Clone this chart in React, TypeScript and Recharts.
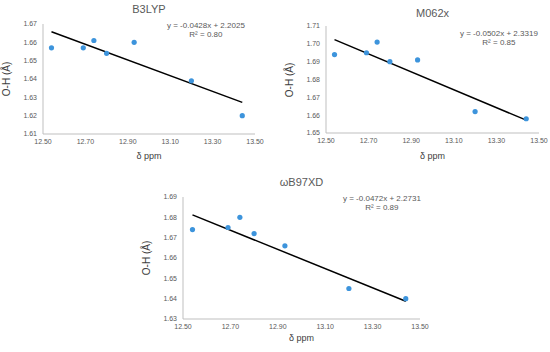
import { ScatterChart, Scatter, XAxis, YAxis, ReferenceLine } from "recharts";

const shifts = [12.54, 12.69, 12.74, 12.8, 12.93, 13.2, 13.44];
const xTicks = [12.5, 12.7, 12.9, 13.1, 13.3, 13.5];

const b3lypValues = [1.657, 1.657, 1.661, 1.654, 1.66, 1.639, 1.62];
const m062xValues = [1.694, 1.695, 1.701, 1.69, 1.691, 1.662, 1.658];
const wb97xdValues = [1.674, 1.675, 1.68, 1.672, 1.666, 1.645, 1.64];

const b3lypTicks = [1.61, 1.62, 1.63, 1.64, 1.65, 1.66, 1.67];
const m062xTicks = [1.65, 1.66, 1.67, 1.68, 1.69, 1.7, 1.71];
const wb97xdTicks = [1.63, 1.64, 1.65, 1.66, 1.67, 1.68, 1.69];

// trendline slope / intercept as printed on each chart
const b3lypFit = [-0.0428, 2.2025];
const m062xFit = [-0.0502, 2.3319];
const wb97xdFit = [-0.0472, 2.2731];

const titles = ["B3LYP", "M062x", "ωB97XD"];
const equations = ["y = -0.0428x + 2.2025", "y = -0.0502x + 2.3319", "y = -0.0472x + 2.2731"];
const r2Labels = ["R² = 0.80", "R² = 0.85", "R² = 0.89"];

const AXIS = "#bfbfbf";
const FONT = "Liberation Sans, Arial, sans-serif";
const TICK = { fill: "#595959", fontSize: 7, fontFamily: FONT };

type PanelProps = {
  left: number;
  top: number;
  width: number;
  height: number;
  plot: { l: number; r: number; t: number; b: number };
  values: number[];
  yTicks: number[];
  fit: number[];
  title: string;
  titleTop: number;
  eq: string;
  r2: string;
  eqPos: { x: number; y: number };
};

function Panel(p: PanelProps) {
  const data = shifts.map((x, i) => ({ x, y: p.values[i] }));
  const x0 = shifts[0];
  const x1 = shifts[shifts.length - 1];
  const mid = p.plot.l + (p.plot.r - p.plot.l) / 2;
  return (
    <div style={{ position: "absolute", left: p.left, top: p.top, width: p.width, height: p.height }}>
      <ScatterChart
        width={p.width}
        height={p.height}
        margin={{ top: p.plot.t, right: p.width - p.plot.r, bottom: 0, left: 0 }}
      >
        <XAxis
          type="number"
          dataKey="x"
          domain={[12.5, 13.5]}
          ticks={xTicks}
          tickFormatter={(v: number) => v.toFixed(2)}
          axisLine={{ stroke: AXIS }}
          tickLine={false}
          tickSize={3}
          tick={TICK}
          height={p.height - p.plot.b}
          interval={0}
        />
        <YAxis
          type="number"
          dataKey="y"
          domain={[p.yTicks[0], p.yTicks[p.yTicks.length - 1]]}
          ticks={p.yTicks}
          tickFormatter={(v: number) => v.toFixed(2)}
          axisLine={{ stroke: AXIS }}
          tickLine={false}
          tickSize={4}
          tick={TICK}
          width={p.plot.l}
          interval={0}
        />
        <ReferenceLine
          segment={[
            { x: x0, y: p.fit[0] * x0 + p.fit[1] },
            { x: x1, y: p.fit[0] * x1 + p.fit[1] },
          ]}
          stroke="#000"
          strokeWidth={1.5}
          ifOverflow="visible"
        />
        <Scatter data={data} fill="#3d94dc" isAnimationActive={false} shape={(s: any) => (
          <circle cx={s.cx} cy={s.cy} r={2.6} fill="#3d94dc" />
        )} />
      </ScatterChart>
      <div
        style={{
          position: "absolute",
          left: 0,
          width: 2 * mid,
          top: p.titleTop,
          textAlign: "center",
          fontSize: 11,
          color: "#595959",
          fontFamily: FONT,
        }}
      >
        {p.title}
      </div>
      <div
        style={{
          position: "absolute",
          left: p.eqPos.x,
          top: p.eqPos.y,
          fontSize: 8,
          lineHeight: "9px",
          color: "#595959",
          textAlign: "center",
          whiteSpace: "nowrap",
          fontFamily: FONT,
        }}
      >
        <div>{p.eq}</div>
        <div>{p.r2}</div>
      </div>
      <div
        style={{
          position: "absolute",
          left: 0,
          width: 2 * mid,
          top: p.height - 19,
          textAlign: "center",
          fontSize: 9,
          color: "#404040",
          fontFamily: FONT,
        }}
      >
        δ ppm
      </div>
      <div
        style={{
          position: "absolute",
          left: p.plot.l - 37,
          top: (p.plot.t + p.plot.b) / 2,
          transform: "translate(-50%, -50%) rotate(-90deg)",
          fontSize: 10,
          color: "#404040",
          whiteSpace: "nowrap",
          fontFamily: FONT,
        }}
      >
        O‑H (Å)
      </div>
    </div>
  );
}

export default function App() {
  return (
    <div style={{ position: "absolute", left: 0, top: 0, width: 550, height: 352, background: "#fff" }}>
      <Panel
        left={0}
        top={0}
        width={275}
        height={170}
        plot={{ l: 43, r: 255, t: 24, b: 134 }}
        values={b3lypValues}
        yTicks={b3lypTicks}
        fit={b3lypFit}
        title={titles[0]}
        titleTop={3}
        eq={equations[0]}
        r2={r2Labels[0]}
        eqPos={{ x: 167, y: 21 }}
      />
      <Panel
        left={275}
        top={0}
        width={275}
        height={170}
        plot={{ l: 51, r: 264, t: 26, b: 133 }}
        values={m062xValues}
        yTicks={m062xTicks}
        fit={m062xFit}
        title={titles[1]}
        titleTop={7}
        eq={equations[1]}
        r2={r2Labels[1]}
        eqPos={{ x: 185, y: 29 }}
      />
      <Panel
        left={130}
        top={170}
        width={300}
        height={182}
        plot={{ l: 53, r: 290, t: 27, b: 149 }}
        values={wb97xdValues}
        yTicks={wb97xdTicks}
        fit={wb97xdFit}
        title={titles[2]}
        titleTop={6}
        eq={equations[2]}
        r2={r2Labels[2]}
        eqPos={{ x: 213, y: 24 }}
      />
    </div>
  );
}
